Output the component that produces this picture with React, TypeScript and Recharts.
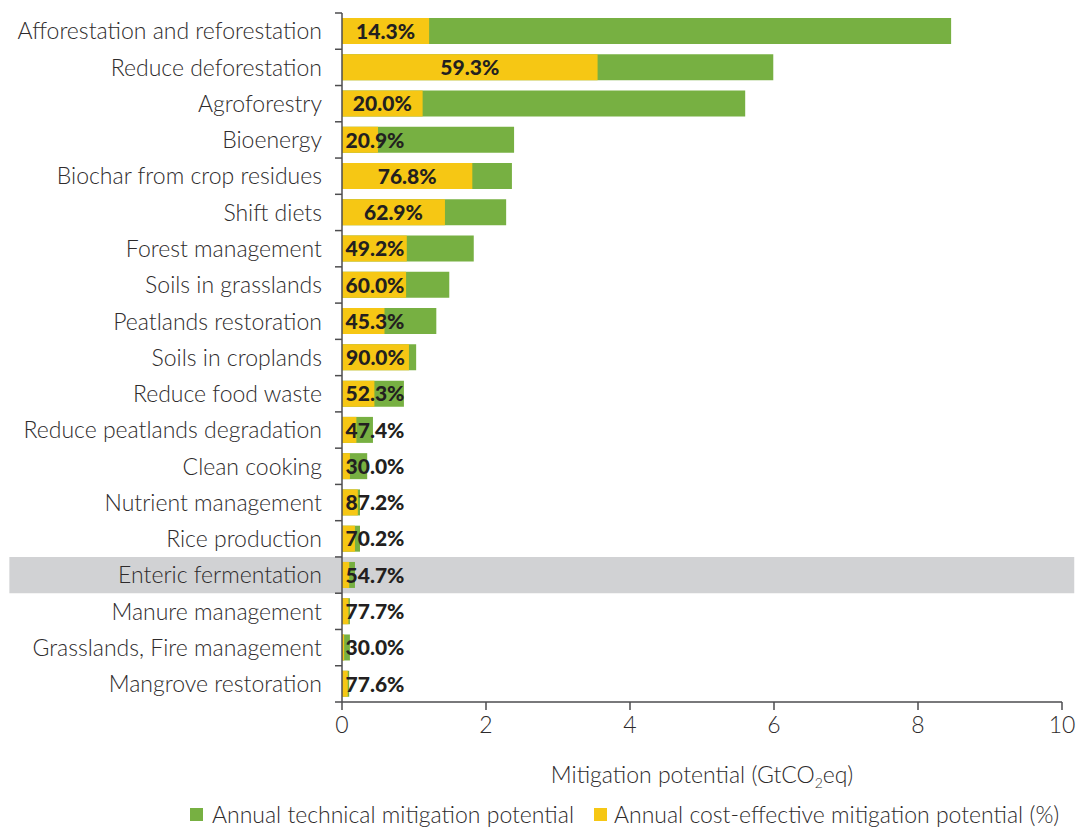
import React from 'react';
import { BarChart, Bar, XAxis, YAxis, ReferenceArea, LabelList, Legend } from 'recharts';

const categories = [
  'Afforestation and reforestation',
  'Reduce deforestation',
  'Agroforestry',
  'Bioenergy',
  'Biochar from crop residues',
  'Shift diets',
  'Forest management',
  'Soils in grasslands',
  'Peatlands restoration',
  'Soils in croplands',
  'Reduce food waste',
  'Reduce peatlands degradation',
  'Clean cooking',
  'Nutrient management ',
  'Rice production',
  'Enteric fermentation',
  'Manure management',
  'Grasslands, Fire management',
  'Mangrove restoration',
];

const technicalPotential = [8.46, 5.99, 5.6, 2.39, 2.36, 2.28, 1.83, 1.49, 1.31, 1.03, 0.86, 0.43, 0.35, 0.25, 0.25, 0.18, 0.11, 0.11, 0.1];
const costEffectivePotential = [1.21, 3.55, 1.12, 0.5, 1.81, 1.43, 0.9, 0.89, 0.59, 0.93, 0.45, 0.2, 0.11, 0.22, 0.18, 0.1, 0.09, 0.03, 0.08];
const costEffectiveShare = ['14.3%', '59.3%', '20.0%', '20.9%', '76.8%', '62.9%', '49.2%', '60.0%', '45.3%', '90.0%', '52.3%', '47.4%', '30.0%', '87.2%', '70.2%', '54.7%', '77.7%', '30.0%', '77.6%'];
const xTicks = [0, 2, 4, 6, 8, 10];
const highlightedCategory = 'Enteric fermentation';

const seriesNames = {
  technical: 'Annual technical mitigation potential',
  costEffective: 'Annual cost-effective mitigation potential (%)',
};

const GREEN = '#77B042';
const YELLOW = '#F6C714';
const GREY_BAND = '#D1D2D4';
const TEXT = '#231F20';
const LIGHT_TEXT = '#2E2B2C';
const AXIS = '#4D4D4F';
const FONT = 'Lato, "Open Sans", sans-serif';
const LABEL_SIZE = 23;

const W = 1077;
const H = 829;
const PLOT_LEFT = 342;
const PLOT_RIGHT = 1062;
const PLOT_TOP = 13;
const PLOT_BOTTOM = 702;
const BAND = (PLOT_BOTTOM - PLOT_TOP) / categories.length;

const data = categories.map((name, i) => ({
  name,
  technical: technicalPotential[i],
  costEffective: costEffectivePotential[i],
  share: costEffectiveShare[i],
}));

const YTick = (props: any) => {
  const { x, y, payload, index } = props;
  const half = BAND / 2;
  return (
    <g>
      <line x1={PLOT_LEFT - 7} x2={PLOT_LEFT} y1={y - half} y2={y - half} stroke={AXIS} strokeWidth={1.5} />
      {index === categories.length - 1 && (
        <line x1={PLOT_LEFT - 7} x2={PLOT_LEFT} y1={y + half} y2={y + half} stroke={AXIS} strokeWidth={1.5} />
      )}
      <text x={x} y={y} dy="0.36em" textAnchor="end" fill={LIGHT_TEXT} fontSize={LABEL_SIZE} fontFamily={FONT} fontWeight={300}>
        {payload.value}
      </text>
    </g>
  );
};

const ShareLabel = (props: any) => {
  const { x, y, width, height, value } = props;
  const cx = Math.max(x + width / 2, x + 33);
  return (
    <text x={cx} y={y + height / 2} dy="0.37em" textAnchor="middle" fill={TEXT} fontSize={21} fontFamily={FONT} fontWeight={900}>
      {value}
    </text>
  );
};

const AxisTitle = (props: any) => {
  const vb = props.viewBox || { x: PLOT_LEFT, y: PLOT_BOTTOM, width: PLOT_RIGHT - PLOT_LEFT, height: 0 };
  const cx = vb.x + vb.width / 2;
  return (
    <text x={cx} y={PLOT_BOTTOM + 81} textAnchor="middle" fill={LIGHT_TEXT} fontSize={LABEL_SIZE} fontFamily={FONT} fontWeight={300}>
      Mitigation potential (GtCO
      <tspan fontSize={14} dy={5}>2</tspan>
      <tspan dy={-5}>eq)</tspan>
    </text>
  );
};

const LegendContent = () => (
  <div style={{ display: 'flex', alignItems: 'center', paddingLeft: 190, fontFamily: FONT, fontWeight: 300, fontSize: LABEL_SIZE, color: LIGHT_TEXT, height: 30, whiteSpace: 'nowrap' }}>
    <span style={{ display: 'inline-block', width: 13, height: 13, background: GREEN, marginRight: 9 }} />
    <span>{seriesNames.technical}</span>
    <span style={{ display: 'inline-block', width: 13, height: 13, background: YELLOW, marginLeft: 20, marginRight: 7 }} />
    <span>{seriesNames.costEffective}</span>
  </div>
);

export default function App() {
  return (
    <div style={{ position: 'absolute', left: 0, top: 0, width: W, height: H, background: '#fff' }}>
      <BarChart
        width={W}
        height={H}
        data={data}
        layout="vertical"
        barSize={26}
        barGap={-26}
        margin={{ top: PLOT_TOP, right: W - PLOT_RIGHT, bottom: 0, left: 0 }}
      >
        <ReferenceArea
          y1={highlightedCategory}
          y2={highlightedCategory}
          x1={-4.62}
          x2={10.17}
          ifOverflow="visible"
          fill={GREY_BAND}
          fillOpacity={1}
          stroke="none"
        />
        <XAxis
          type="number"
          domain={[0, 10]}
          ticks={xTicks}
          tickSize={8}
          tickMargin={7}
          height={97}
          axisLine={{ stroke: AXIS, strokeWidth: 1.5 }}
          tickLine={{ stroke: AXIS, strokeWidth: 1.5 }}
          tick={{ fill: LIGHT_TEXT, fontSize: LABEL_SIZE, fontFamily: FONT, fontWeight: 300 }}
          label={<AxisTitle />}
        />
        <YAxis
          type="category"
          dataKey="name"
          width={PLOT_LEFT}
          interval={0}
          tickSize={7}
          tickMargin={13}
          tickLine={false}
          axisLine={{ stroke: AXIS, strokeWidth: 1.5 }}
          tick={<YTick />}
        />
        <Legend verticalAlign="bottom" align="left" content={<LegendContent />} wrapperStyle={{ left: 0, bottom: 0, width: W, height: 30 }} />
        <Bar dataKey="technical" name={seriesNames.technical} fill={GREEN} isAnimationActive={false} />
        <Bar dataKey="costEffective" name={seriesNames.costEffective} fill={YELLOW} isAnimationActive={false}>
          <LabelList dataKey="share" content={<ShareLabel />} />
        </Bar>
      </BarChart>
    </div>
  );
}
